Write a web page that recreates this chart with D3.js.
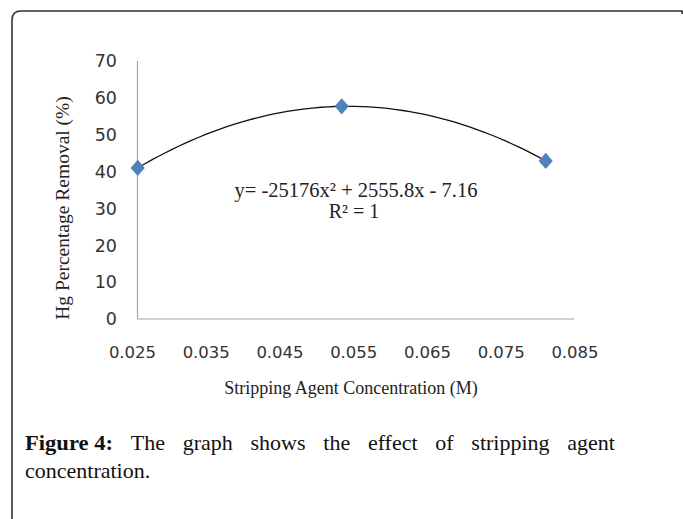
<!DOCTYPE html>
<html><head><meta charset="utf-8">
<script src="https://cdn.jsdelivr.net/npm/d3@7"></script>
<style>body{margin:0;background:#fff}svg{display:block}</style>
</head><body>
<svg id="c" width="683" height="519"></svg>
<script>
// Data
const concentration = [0.025, 0.05, 0.075];
const removal = [41, 57.7, 42.9];
const xTickLabels = ["0.025", "0.035", "0.045", "0.055", "0.065", "0.075", "0.085"];
const yTicks = [0, 10, 20, 30, 40, 50, 60, 70];
const equationText = "y= -25176x² + 2555.8x - 7.16";
const r2Text = "R² = 1";
const xTitle = "Stripping Agent Concentration (M)";
const yTitle = "Hg Percentage Removal (%)";
const captionBold = "Figure 4:";
const captionLine1 = "The graph shows the effect of stripping agent";
const captionLine2 = "concentration.";

const svg = d3.select("#c");
const serif = "'Liberation Serif','Times New Roman',serif";
const sans = "'DejaVu Sans',sans-serif";

// frame
svg.append("path")
  .attr("d", "M12,530 L12,20 Q12,11 21,11 L682,11 L682,14")
  .attr("fill", "none").attr("stroke", "#333").attr("stroke-width", 1.6);

// scales
const x = d3.scaleLinear().domain([0.025, 0.075]).range([137.7, 545.7]);
const xLab = d3.scalePoint().domain(xTickLabels).range([132.5, 575]);
const y = d3.scaleLinear().domain([0, 70]).range([319, 61]);

// axes lines
svg.append("line").attr("x1", 137.5).attr("x2", 137.5).attr("y1", y(70)).attr("y2", y(0))
  .attr("stroke", "#a6a6a6").attr("stroke-width", 1.2);
svg.append("line").attr("x1", 137.5).attr("x2", 574).attr("y1", y(0)).attr("y2", y(0))
  .attr("stroke", "#a6a6a6").attr("stroke-width", 1.2);

// y tick labels
svg.append("g").selectAll("text").data(yTicks).join("text")
  .attr("x", 117).attr("y", d => y(d)).attr("dy", "0.36em")
  .attr("text-anchor", "end").attr("font-family", sans).attr("font-size", 17.5)
  .attr("fill", "#333").text(d => d);

// x tick labels
svg.append("g").selectAll("text").data(xTickLabels).join("text")
  .attr("x", d => xLab(d)).attr("y", 358)
  .attr("text-anchor", "middle").attr("font-family", sans).attr("font-size", 16.5)
  .attr("fill", "#333").text(d => d);

// titles
svg.append("text").attr("x", 351).attr("y", 394).attr("text-anchor", "middle")
  .attr("font-family", serif).attr("font-size", 18).attr("fill", "#222").text(xTitle);
svg.append("text").attr("transform", "translate(69,208) rotate(-90)").attr("text-anchor", "middle")
  .attr("font-family", serif).attr("font-size", 19.5).attr("fill", "#222").text(yTitle);

// polynomial trendline fitted through the data (quadratic)
function quad(t) {
  let s = 0;
  for (let i = 0; i < 3; i++) {
    let p = removal[i];
    for (let j = 0; j < 3; j++) if (j !== i) p *= (t - concentration[j]) / (concentration[i] - concentration[j]);
    s += p;
  }
  return s;
}
const tSamples = d3.range(0, 61).map(k => concentration[0] + (concentration[2] - concentration[0]) * k / 60);
svg.append("path").datum(tSamples)
  .attr("d", d3.line().x(t => x(t)).y(t => y(quad(t))))
  .attr("fill", "none").attr("stroke", "#111").attr("stroke-width", 1.3);

// markers
svg.append("g").selectAll("path").data(concentration).join("path")
  .attr("transform", (d, i) => `translate(${x(d)},${y(removal[i])}) scale(1,1.15) rotate(45)`)
  .attr("d", d3.symbol().type(d3.symbolSquare).size(100)())
  .attr("fill", "#4f81bd");

// equation
svg.append("text").attr("x", 356).attr("y", 197).attr("text-anchor", "middle")
  .attr("font-family", serif).attr("font-size", 20.5).attr("fill", "#222").text(equationText);
svg.append("text").attr("x", 354).attr("y", 218).attr("text-anchor", "middle")
  .attr("font-family", serif).attr("font-size", 20).attr("fill", "#222").text(r2Text);

// caption (justified first line)
const cap = svg.append("g").attr("font-family", serif).attr("font-size", 22).attr("fill", "#111");
const words = [captionBold].concat(captionLine1.split(" "));
const nodes = words.map((w, i) => cap.append("text").attr("y", 450)
  .attr("font-weight", i === 0 ? "bold" : "normal").text(w));
nodes[0].attr("textLength", 88).attr("lengthAdjust", "spacingAndGlyphs");
const widths = nodes.map((n, i) => i === 0 ? 88 : n.node().getComputedTextLength());
const left = 25, right = 615;
const gap = (right - left - d3.sum(widths)) / (words.length - 1);
let cx = left;
nodes.forEach((n, i) => { n.attr("x", cx); cx += widths[i] + gap; });
cap.append("text").attr("x", left).attr("y", 478).text(captionLine2);
</script>
</body></html>
